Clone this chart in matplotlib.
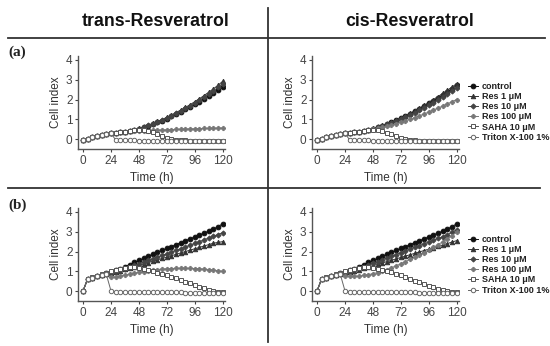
import matplotlib.pyplot as plt
import matplotlib.lines as mlines

# time points (h)
time_h = [0, 4, 8, 12, 16, 20, 24, 28, 32, 36, 40, 44, 48, 52, 56, 60,
          64, 68, 72, 76, 80, 84, 88, 92, 96, 100, 104, 108, 112, 116, 120]

series_names = ['control', 'Res 1 \u03bcM', 'Res 10 \u03bcM', 'Res 100 \u03bcM',
                'SAHA 10 \u03bcM', 'Triton X-100 1%']

# (a) trans-Resveratrol
early_a = [-0.05, 0.02, 0.10, 0.17, 0.23, 0.27, 0.30, 0.32, 0.34, 0.37, 0.41]
a_trans_control = early_a + [0.46, 0.52, 0.59, 0.67, 0.75, 0.84, 0.94, 1.04, 1.15, 1.26,
                             1.38, 1.50, 1.63, 1.76, 1.90, 2.04, 2.19, 2.34, 2.50, 2.65]
a_trans_res1 = early_a + [0.47, 0.54, 0.62, 0.70, 0.79, 0.89, 0.99, 1.10, 1.22, 1.34,
                          1.47, 1.60, 1.74, 1.89, 2.04, 2.20, 2.37, 2.54, 2.72, 2.92]
a_trans_res10 = early_a + [0.46, 0.53, 0.61, 0.69, 0.77, 0.86, 0.96, 1.07, 1.18, 1.30,
                           1.42, 1.55, 1.68, 1.82, 1.97, 2.12, 2.28, 2.44, 2.62, 2.80]
a_trans_res100 = early_a + [0.40, 0.41, 0.42, 0.43, 0.44, 0.45, 0.46, 0.47, 0.48, 0.49,
                            0.50, 0.51, 0.52, 0.52, 0.53, 0.54, 0.54, 0.55, 0.56, 0.56]
a_trans_saha = early_a + [0.44, 0.46, 0.46, 0.43, 0.36, 0.26, 0.15, 0.06, 0.00, -0.04,
                          -0.06, -0.07, -0.08, -0.08, -0.09, -0.09, -0.09, -0.10, -0.10, -0.10]
a_trans_triton = early_a[:7] + [-0.04, -0.06, -0.07, -0.07, -0.07, -0.08, -0.08, -0.08,
                                -0.08, -0.08, -0.08, -0.08, -0.09, -0.09, -0.09, -0.09,
                                -0.09, -0.09, -0.09, -0.09, -0.09, -0.09, -0.09, -0.09]

# (a) cis-Resveratrol
a_cis_control = early_a + [0.47, 0.53, 0.60, 0.68, 0.76, 0.85, 0.95, 1.05, 1.16, 1.28,
                           1.40, 1.53, 1.66, 1.80, 1.94, 2.09, 2.24, 2.39, 2.55, 2.72]
a_cis_res1 = early_a + [0.47, 0.54, 0.61, 0.69, 0.78, 0.87, 0.97, 1.08, 1.19, 1.31,
                        1.44, 1.57, 1.71, 1.85, 2.00, 2.15, 2.31, 2.47, 2.63, 2.80]
a_cis_res10 = early_a + [0.46, 0.52, 0.59, 0.66, 0.74, 0.82, 0.91, 1.01, 1.11, 1.22,
                         1.34, 1.46, 1.58, 1.71, 1.85, 1.99, 2.14, 2.29, 2.44, 2.60]
a_cis_res100 = early_a + [0.45, 0.49, 0.54, 0.59, 0.65, 0.71, 0.78, 0.85, 0.93, 1.01,
                          1.09, 1.18, 1.27, 1.37, 1.47, 1.57, 1.67, 1.78, 1.89, 2.00]
a_cis_saha = early_a + [0.44, 0.45, 0.44, 0.40, 0.33, 0.24, 0.14, 0.05, -0.01, -0.05,
                        -0.07, -0.08, -0.08, -0.09, -0.09, -0.09, -0.10, -0.10, -0.10, -0.10]
a_cis_triton = a_trans_triton

# (b) trans-Resveratrol
b_trans_control = [0.0, 0.62, 0.68, 0.75, 0.82, 0.89, 0.96, 1.05, 1.14, 1.24, 1.34, 1.45,
                   1.55, 1.65, 1.76, 1.86, 1.96, 2.06, 2.16, 2.25, 2.35, 2.45, 2.55, 2.64,
                   2.74, 2.84, 2.93, 3.03, 3.13, 3.26, 3.40]
b_trans_res1 = [0.0, 0.62, 0.68, 0.74, 0.80, 0.86, 0.91, 0.97, 1.03, 1.10, 1.16, 1.23,
                1.30, 1.37, 1.44, 1.51, 1.58, 1.65, 1.72, 1.79, 1.86, 1.93, 2.00, 2.07,
                2.14, 2.21, 2.28, 2.35, 2.42, 2.46, 2.50]
b_trans_res10 = [0.0, 0.62, 0.68, 0.74, 0.80, 0.86, 0.92, 0.99, 1.06, 1.14, 1.22, 1.30,
                 1.38, 1.46, 1.55, 1.63, 1.71, 1.80, 1.88, 1.97, 2.06, 2.15, 2.23, 2.32,
                 2.41, 2.50, 2.59, 2.68, 2.77, 2.86, 2.95]
b_trans_res100 = [0.0, 0.62, 0.68, 0.74, 0.80, 0.85, 0.72, 0.72, 0.76, 0.81, 0.86, 0.91,
                  0.95, 0.99, 1.03, 1.06, 1.09, 1.11, 1.13, 1.14, 1.15, 1.15, 1.15, 1.15,
                  1.14, 1.13, 1.11, 1.09, 1.06, 1.03, 1.00]
b_trans_saha = [0.0, 0.62, 0.69, 0.76, 0.84, 0.92, 1.00, 1.08, 1.14, 1.18, 1.20, 1.20,
                1.17, 1.12, 1.07, 1.00, 0.94, 0.87, 0.80, 0.72, 0.64, 0.55, 0.47, 0.39,
                0.30, 0.22, 0.14, 0.07, 0.01, -0.03, -0.05]
b_trans_triton = [0.0, 0.62, 0.68, 0.74, 0.80, 0.85, 0.02, -0.03, -0.04, -0.05, -0.05,
                  -0.06, -0.06, -0.06, -0.06, -0.07, -0.07, -0.07, -0.07, -0.07, -0.07,
                  -0.07, -0.08, -0.08, -0.08, -0.08, -0.08, -0.08, -0.08, -0.08, -0.08]

# (b) cis-Resveratrol
b_cis_control = [0.0, 0.62, 0.68, 0.75, 0.82, 0.89, 0.96, 1.05, 1.14, 1.24, 1.34, 1.45,
                 1.55, 1.65, 1.76, 1.86, 1.96, 2.06, 2.16, 2.25, 2.35, 2.45, 2.55, 2.64,
                 2.74, 2.84, 2.93, 3.03, 3.13, 3.26, 3.40]
b_cis_res1 = [0.0, 0.62, 0.68, 0.74, 0.80, 0.86, 0.91, 0.97, 1.03, 1.09, 1.15, 1.21,
              1.28, 1.35, 1.42, 1.49, 1.56, 1.63, 1.70, 1.77, 1.84, 1.91, 1.98, 2.05,
              2.12, 2.19, 2.26, 2.33, 2.40, 2.48, 2.55]
b_cis_res10 = [0.0, 0.62, 0.68, 0.74, 0.80, 0.86, 0.92, 0.99, 1.07, 1.15, 1.23, 1.31,
               1.40, 1.49, 1.58, 1.67, 1.76, 1.85, 1.94, 2.03, 2.12, 2.21, 2.30, 2.39,
               2.48, 2.57, 2.66, 2.75, 2.85, 2.97, 3.10]
b_cis_res100 = [0.0, 0.62, 0.68, 0.74, 0.80, 0.85, 0.78, 0.74, 0.74, 0.76, 0.79, 0.83,
                0.88, 0.94, 1.01, 1.09, 1.18, 1.28, 1.38, 1.49, 1.60, 1.71, 1.83, 1.95,
                2.08, 2.21, 2.35, 2.49, 2.64, 2.80, 2.98]
b_cis_saha = [0.0, 0.62, 0.69, 0.76, 0.84, 0.92, 1.00, 1.08, 1.14, 1.18, 1.20, 1.20,
              1.18, 1.14, 1.09, 1.03, 0.96, 0.88, 0.80, 0.71, 0.62, 0.53, 0.44, 0.35,
              0.27, 0.19, 0.12, 0.06, 0.01, -0.03, -0.05]
b_cis_triton = b_trans_triton

panels = {
    'a_trans': [a_trans_control, a_trans_res1, a_trans_res10, a_trans_res100, a_trans_saha, a_trans_triton],
    'a_cis': [a_cis_control, a_cis_res1, a_cis_res10, a_cis_res100, a_cis_saha, a_cis_triton],
    'b_trans': [b_trans_control, b_trans_res1, b_trans_res10, b_trans_res100, b_trans_saha, b_trans_triton],
    'b_cis': [b_cis_control, b_cis_res1, b_cis_res10, b_cis_res100, b_cis_saha, b_cis_triton],
}

# marker styles per series: (marker, edge colour, face colour, size)
styles = [
    ('o', '#111111', '#111111', 3.4),
    ('^', '#333333', '#333333', 3.2),
    ('D', '#444444', '#444444', 2.6),
    ('P', '#777777', '#777777', 3.0),
    ('s', '#555555', 'white', 3.2),
    ('o', '#666666', 'white', 3.2),
]

plt.rcParams['font.family'] = ['Liberation Sans', 'DejaVu Sans']

fig = plt.figure(figsize=(5.5, 3.46), dpi=100)
W, H = 550.0, 346.0

axes_pos = {
    'a_trans': (78, 149),
    'a_cis': (312, 149),
    'b_trans': (78, 301),
    'b_cis': (312, 301),
}


def draw_panel(key, legend_y=None):
    x0, ybot = axes_pos[key]
    ax = fig.add_axes([x0 / W, (H - ybot) / H, 147 / W, 93 / H])
    for vals, (m, ec, fc, ms), name in zip(panels[key], styles, series_names):
        ax.plot(time_h, vals, color=ec, lw=0.7, marker=m, ms=ms,
                mec=ec, mfc=fc, mew=0.7, label=name)
    ax.set_xlim(-4.3, 122)
    ax.set_ylim(-0.5, 4.2)
    ax.set_xticks([0, 24, 48, 72, 96, 120])
    ax.set_yticks([0, 1, 2, 3, 4])
    for s in ['top', 'right']:
        ax.spines[s].set_visible(False)
    for s in ['left', 'bottom']:
        ax.spines[s].set_color('#555555')
        ax.spines[s].set_linewidth(1.0)
    ax.tick_params(labelsize=8.5, colors='#444444', length=2.5, width=0.8, pad=1.5)
    ax.set_xlabel('Time (h)', fontsize=8.5, color='#333333', labelpad=4)
    ax.set_ylabel('Cell index', fontsize=8.5, color='#333333', labelpad=3)
    if legend_y is not None:
        handles = [mlines.Line2D([], [], color=ec, lw=0.7, marker=m, ms=ms,
                                 mec=ec, mfc=fc, mew=0.7)
                   for (m, ec, fc, ms) in styles]
        leg = ax.legend(handles, series_names, loc='center left',
                        bbox_to_anchor=(1.04, legend_y), frameon=False,
                        prop={'size': 6.5, 'weight': 'bold'}, handlelength=1.0,
                        handletextpad=0.5, labelspacing=0.13, borderaxespad=0)
        for t in leg.get_texts():
            t.set_color('#222222')
    return ax


draw_panel('a_trans')
draw_panel('a_cis', 0.40)
draw_panel('b_trans')
draw_panel('b_cis', 0.39)

# frame lines and headers
fig.add_artist(mlines.Line2D([8 / W, 545 / W], [1 - 38 / H, 1 - 38 / H], color='#333333', lw=1.3))
fig.add_artist(mlines.Line2D([8 / W, 540 / W], [1 - 188 / H, 1 - 188 / H], color='#333333', lw=1.3))
fig.add_artist(mlines.Line2D([268 / W, 268 / W], [1 - 8 / H, 1 - 342 / H], color='#333333', lw=1.3))

fig.text(156 / W, 1 - 21 / H, 'trans-Resveratrol', fontsize=12.8, weight='bold',
         ha='center', va='center', color='#111111')
fig.text(410 / W, 1 - 21 / H, 'cis-Resveratrol', fontsize=12.8, weight='bold',
         ha='center', va='center', color='#111111')
fig.text(8 / W, 1 - 52 / H, '(a)', fontsize=11, weight='bold', family='Liberation Serif',
         ha='left', va='center', color='#222222')
fig.text(8 / W, 1 - 205 / H, '(b)', fontsize=11, weight='bold', family='Liberation Serif',
         ha='left', va='center', color='#222222')

fig.savefig('out.png', dpi=100)
